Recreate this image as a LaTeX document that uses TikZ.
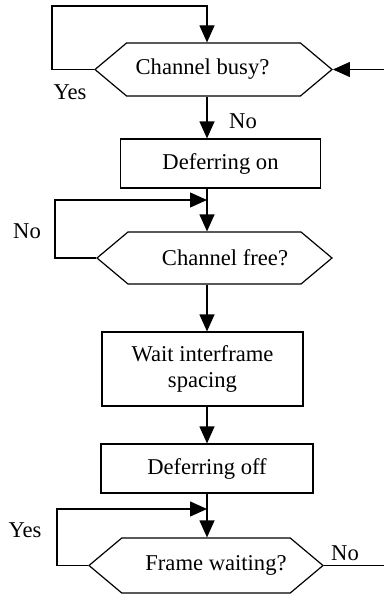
\documentclass[tikz,border=0pt]{standalone}
\usepackage{fontspec}
\setmainfont{Liberation Serif}
\usetikzlibrary{arrows.meta,shapes.symbols,positioning,calc}

\begin{document}
\begin{tikzpicture}[
    x=1pt, y=-1pt,
    line width=1.2pt,
    test/.style={draw, signal, signal to=west and east, signal pointer angle=80, inner sep=0pt, font=\fontsize{22.6}{26}\selectfont},
    blk/.style={draw, rectangle, align=center, inner sep=0pt, font=\fontsize{22.6}{26}\selectfont},
    arr/.style={-{Triangle[length=17pt, width=15pt]}},
    lbl/.style={font=\fontsize{22.6}{26}\selectfont, inner sep=0pt}
]
\useasboundingbox (0,0) rectangle (384,594);
\coordinate (flow) at (207,0);

\node[test, minimum width=237pt, minimum height=53pt] (busy) at (213.5,69.5) {Channel busy?\hspace*{22pt}};
\node[blk, minimum width=200pt, minimum height=49pt] (defon) at (220.5,163.5) {Deferring on};
\node[test, minimum width=235pt, minimum height=52pt] (free) at (214.5,258) {\hspace*{21pt}Channel free?};
\node[blk, minimum width=201pt, minimum height=74pt] (wait) at (202.5,369) {Wait interframe\\spacing};
\node[blk, minimum width=212pt, minimum height=49pt] (defoff) at (207,468.5) {Deferring off};
\node[test, minimum width=234pt, minimum height=55pt] (fwait) at (206,565.5) {\hspace*{20pt}Frame waiting?};

\node[lbl] (yes1) at (70,92) {Yes};
\node[lbl] (no1) at (243,121) {No};
\node[lbl] (no2) at (27,231) {No};
\node[lbl] (yes2) at (25,530) {Yes};
\node[lbl] (no3) at (345,553) {No};

\coordinate (loopA) at (52,6);
\coordinate (loopB) at (55,200);
\coordinate (loopC) at (57,509);
\coordinate (entry) at (384,69.5);
\coordinate (exit) at (384,565.5);

\draw[arr] (busy.west) -| (loopA) -| (busy.north -| flow);
\draw[arr] (entry) -- (busy.east);
\draw[arr] (busy.south -| flow) -- (defon.north -| flow);
\draw[arr] (defon.south -| flow) -- (free.north -| flow);
\draw[arr] (free.west) -| (loopB) -- (loopB -| flow);
\draw[arr] (free.south -| flow) -- (wait.north -| flow);
\draw[arr] (wait.south -| flow) -- (defoff.north -| flow);
\draw[arr] (defoff.south -| flow) -- (fwait.north -| flow);
\draw[arr] (fwait.west) -| (loopC) -- (loopC -| flow);
\draw (fwait.east) -- (exit);
\end{tikzpicture}
\end{document}
